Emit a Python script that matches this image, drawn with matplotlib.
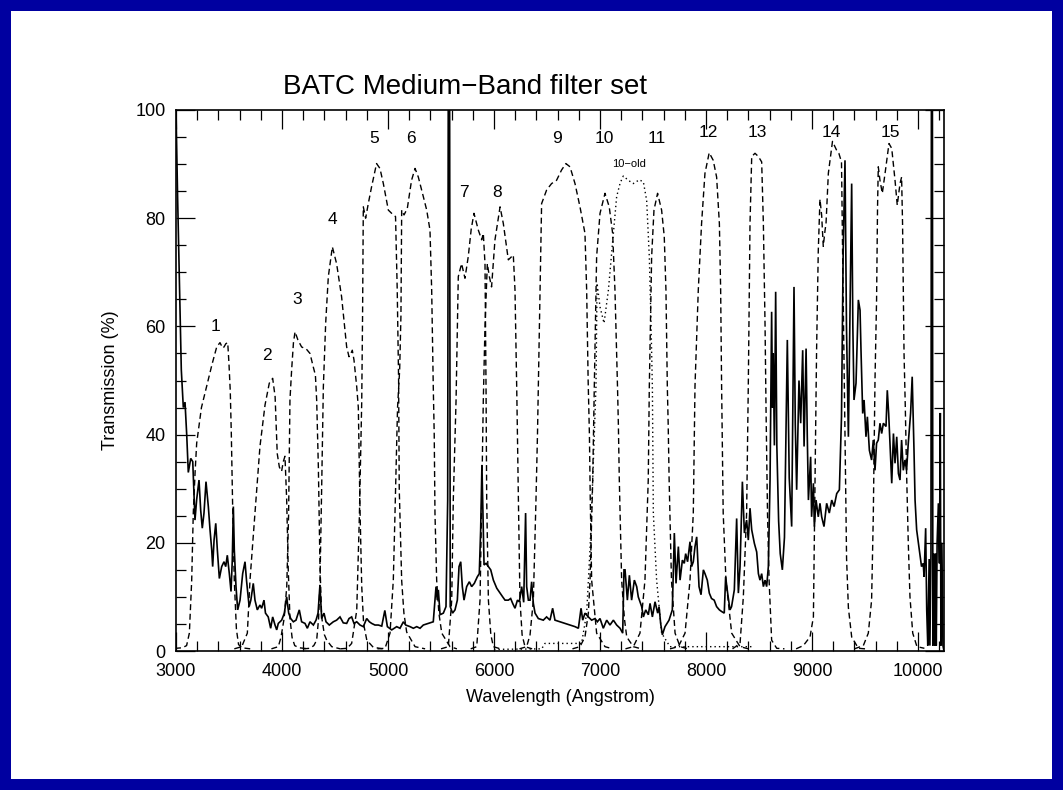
import matplotlib
matplotlib.use("Agg")
import matplotlib.pyplot as plt
from matplotlib.patches import Rectangle

plt.rcParams['font.family'] = ['Liberation Sans', 'DejaVu Sans']

# night sky spectrum (solid line)
sky_wave = [3000, 3015, 3030, 3050, 3069, 3085, 3101, 3116, 3139, 3158, 3179, 3195, 3217, 3233, 3248,
            3264, 3283, 3305, 3321, 3337, 3346, 3359, 3375, 3390, 3409, 3431, 3453, 3469, 3484, 3503,
            3519, 3531, 3541, 3550, 3566, 3582, 3604, 3629, 3651, 3665, 3690, 3706, 3729, 3745, 3767,
            3792, 3808, 3830, 3844, 3870, 3893, 3912, 3934, 3950, 3965, 3997, 4022, 4044, 4063, 4082,
            4107, 4132, 4163, 4185, 4217, 4239, 4264, 4296, 4321, 4340, 4358, 4374, 4396, 4415, 4446,
            4484, 4515, 4547, 4578, 4610, 4632, 4657, 4679, 4705, 4736, 4767, 4799, 4824, 4846, 4877,
            4909, 4941, 4970, 4994, 5035, 5082, 5113, 5145, 5167, 5208, 5239, 5271, 5302, 5333, 5380,
            5427, 5453, 5465, 5475, 5491, 5522, 5547, 5563, 5571, 5579, 5587, 5609, 5632, 5654, 5670,
            5686, 5701, 5717, 5742, 5767, 5789, 5814, 5842, 5861, 5874, 5886, 5893, 5906, 5925, 5947,
            5969, 5994, 6026, 6057, 6082, 6104, 6135, 6157, 6176, 6198, 6221, 6239, 6261, 6280, 6298,
            6308, 6324, 6340, 6355, 6371, 6387, 6418, 6465, 6496, 6528, 6553, 6575, 6623, 6670, 6717,
            6764, 6796, 6821, 6837, 6858, 6890, 6921, 6953, 6975, 7000, 7031, 7063, 7094, 7126, 7157,
            7189, 7214, 7226, 7236, 7258, 7277, 7298, 7324, 7346, 7361, 7393, 7409, 7431, 7456, 7472,
            7494, 7519, 7544, 7557, 7572, 7588, 7613, 7651, 7682, 7701, 7717, 7739, 7755, 7777, 7795,
            7808, 7826, 7849, 7864, 7880, 7896, 7912, 7934, 7953, 7975, 7990, 8012, 8031, 8052, 8077,
            8100, 8126, 8147, 8172, 8185, 8204, 8226, 8241, 8267, 8289, 8305, 8321, 8343, 8362, 8383,
            8399, 8415, 8431, 8456, 8478, 8494, 8509, 8525, 8541, 8557, 8572, 8588, 8604, 8619, 8627,
            8634, 8645, 8657, 8668, 8685, 8700, 8720, 8740, 8767, 8785, 8808, 8830, 8842, 8855, 8877,
            8893, 8912, 8925, 8944, 8955, 8966, 8987, 8996, 9013, 9022, 9038, 9059, 9075, 9091, 9113,
            9138, 9163, 9186, 9208, 9233, 9258, 9278, 9294, 9311, 9325, 9343, 9358, 9374, 9385, 9396,
            9415, 9437, 9453, 9462, 9478, 9491, 9509, 9522, 9541, 9562, 9578, 9594, 9609, 9625, 9641,
            9657, 9673, 9698, 9710, 9723, 9752, 9768, 9783, 9799, 9815, 9830, 9845, 9861, 9877, 9892,
            9908, 9930, 9945, 9962, 9972, 9987, 10012, 10033, 10049, 10057, 10072, 10082, 10092, 10105,
            10112, 10122, 10128, 10134, 10140, 10150, 10158, 10165, 10172, 10180, 10192, 10202, 10210,
            10216, 10225, 10235, 10245]
sky_trans = [100, 84, 70, 52, 45, 46, 40, 33, 35.6, 35, 24.2, 28, 31.6, 26, 22.7,
             25.5, 31.3, 26.7, 22.4, 18.7, 15.6, 20.5, 23.6, 18.7, 13.4, 15.6, 16.5, 15.6, 17.7, 14.3,
             11, 16.8, 26.7, 18.7, 11.9, 7.6, 9.4, 14.3, 16.5, 13.1, 8.2, 9.4, 12.5, 9.4, 7.6,
             8.5, 7.9, 9.4, 7, 6.3, 4.2, 6.3, 4.8, 3.9, 5.1, 5.7, 7, 10, 7, 6,
             5.4, 5.7, 7.6, 5.4, 5.1, 4.2, 5.4, 4.8, 5.7, 7, 12.2, 6, 7, 5.4, 4.8,
             5.4, 5.7, 6.3, 5.2, 5.1, 6, 6.3, 5.1, 5.4, 4.8, 4.5, 6, 5.4, 5.1, 4.8,
             4.8, 4.6, 7.5, 4.5, 3.9, 4.5, 4.2, 5.4, 4.8, 4.5, 4.2, 4.5, 4.2, 4.8, 5.1,
             5.4, 11.9, 9.4, 11.3, 6.7, 7, 8.2, 27.9, 140, 140, 8.2, 7, 7.6, 9.4, 15.6,
             16.5, 11.9, 9.4, 11.9, 12.8, 11.9, 12.5, 13.7, 14.3, 22.4, 34.4, 28, 15.9, 16.2, 15.6,
             15, 13.1, 11.6, 10.7, 10, 9.4, 9.4, 9.7, 8.8, 7.9, 9.4, 9.1, 11.9, 9, 25.5,
             11.9, 9.4, 9.4, 12.8, 8.8, 7, 6, 5.7, 6.3, 5.7, 7.9, 5.7, 5.4, 5.1, 4.8,
             4.5, 4.2, 7.9, 5.7, 7, 6.3, 5.7, 6, 5.4, 6, 4.2, 5.7, 4.8, 5.7, 4.8,
             4.2, 3.3, 15, 15, 9.4, 14, 9.4, 13.1, 11.9, 10, 8.2, 6.3, 7.6, 6.7, 8.8,
             6.3, 9.1, 7, 8.2, 5.1, 3, 4.5, 5.7, 7.6, 21.8, 12.5, 19.3, 13.1, 16.8, 16.2,
             18, 16.5, 20.2, 15.6, 16.5, 19.3, 21.1, 11.9, 10.4, 15, 14.3, 13.1, 10.7, 9.7, 9.4,
             8.2, 7.6, 7.3, 7, 13.7, 10.7, 7.6, 8.2, 11.3, 24.5, 10.7, 15.6, 31.3, 21.8, 24.2,
             20.5, 26.4, 22.4, 19.9, 18.3, 14.3, 13.1, 14.3, 11.9, 13.1, 11.9, 15.6, 31.6, 62.7, 45,
             55, 38, 66.4, 38, 24, 18, 15, 21, 57.5, 32, 23, 67.3, 42, 29.8, 50,
             42.1, 55.6, 37.8, 55.9, 40, 27.9, 35.9, 24.8, 31, 23, 27.9, 24.8, 27.3, 24.8, 23,
             27.3, 25.5, 27.9, 26.7, 29.1, 29.8, 43.3, 74.1, 90.7, 60, 39.6, 61.8, 86.4, 60, 46.4,
             49.5, 64.9, 63, 55.6, 43.9, 46.4, 39.6, 43.3, 37.1, 35.3, 39, 33.4, 38.4, 39, 42.1,
             40.2, 42.1, 41.5, 48.2, 43.9, 31, 40.2, 34.7, 39.6, 32.8, 31.6, 39, 33.4, 35.3, 33.4,
             38.4, 44, 50.7, 37.1, 27.9, 22.4, 18.7, 15.6, 16.2, 13.7, 22.7, 7.6, 1, 17,
             1, 18, 140, 140, 1, 18, 1, 18, 1, 20, 27.3, 16.2, 44,
             1, 20, 1, 0]

# filter curves (dashed)
f1_wave = [2900, 3000, 3060, 3100, 3126, 3148, 3163, 3180, 3195, 3240, 3290, 3340, 3384, 3415,
           3440, 3453, 3470, 3488, 3500, 3512, 3522, 3535, 3550, 3570, 3590, 3620, 3700]
f1_trans = [0.5, 0.5, 0.6, 1.0, 3.3, 13, 25.5, 33, 38.4, 45, 49, 53, 56.2, 57,
            56, 56.2, 56.8, 57, 53, 48, 40, 26, 13, 4, 1.2, 0.6, 0.4]
f2_wave = [3550, 3620, 3673, 3698, 3745, 3792, 3840, 3880, 3912, 3935, 3955, 3975, 3996, 4012,
           4028, 4044, 4059, 4075, 4095, 4120, 4160, 4250]
f2_trans = [0.4, 0.8, 3.3, 13.1, 25.5, 37.8, 45.5, 49.5, 50.4, 47, 36.5, 34, 33.2, 35,
            36, 28, 15, 6, 2.5, 1, 0.6, 0.4]
f3_wave = [3900, 3965, 3990, 4020, 4045, 4062, 4075, 4091, 4108, 4123, 4150, 4185, 4230, 4264,
           4295, 4315, 4327, 4343, 4358, 4374, 4400, 4422, 4469, 4550]
f3_trans = [0.4, 0.8, 2.5, 6, 12, 25, 46.4, 52, 57, 59, 57.5, 56.2, 55.8, 55,
            52.5, 51, 46.4, 34, 16, 6.3, 3, 2, 0.8, 0.4]
f4_wave = [4200, 4264, 4300, 4327, 4345, 4358, 4374, 4390, 4412, 4437, 4475, 4515, 4562, 4610,
           4632, 4650, 4663, 4679, 4705, 4720, 4736, 4752, 4770, 4800, 4860, 4950]
f4_trans = [0.4, 0.5, 1, 2, 6, 12.5, 30, 48.8, 60.6, 69.2, 74.7, 71.6, 65.5, 56.2,
            54.4, 55, 55.6, 53.8, 48.8, 45, 26, 12, 5, 2, 0.7, 0.4]
f5_wave = [4550, 4615, 4657, 4705, 4730, 4752, 4760, 4767, 4789, 4814, 4845, 4892, 4924, 4956,
           5003, 5050, 5071, 5087, 5100, 5106, 5129, 5150, 5176, 5255, 5350]
f5_trans = [0.4, 0.5, 1.4, 7.5, 25, 46, 62, 82.1, 80, 82.7, 85.8, 90.1, 89.2, 86.4,
            81.5, 80.6, 80.3, 66.7, 50, 30, 13, 7, 3.5, 0.8, 0.4]
f6_wave = [4900, 4972, 5019, 5050, 5066, 5090, 5110, 5122, 5129, 5151, 5182, 5222, 5255, 5286,
           5333, 5365, 5396, 5412, 5427, 5436, 5443, 5459, 5480, 5507, 5585, 5650]
f6_trans = [0.4, 0.5, 3.3, 13.1, 25.5, 45, 52, 62, 81.5, 80.6, 81.8, 87, 89.2, 87.6,
            84, 81.5, 77.8, 66.7, 48.8, 40, 25.5, 13.1, 7, 3.3, 0.8, 0.4]
f7_wave = [5500, 5569, 5601, 5616, 5642, 5663, 5694, 5726, 5757, 5785, 5811, 5852, 5884, 5899,
           5915, 5925, 5931, 5947, 5970, 5994, 6060]
f7_trans = [0.4, 0.8, 9.4, 28, 46.4, 69.2, 71.6, 68.9, 72.9, 78, 80.9, 77.8, 76, 77.2,
            71.6, 48, 28, 9.4, 3, 0.8, 0.4]
f8_wave = [5780, 5837, 5868, 5884, 5899, 5915, 5937, 5956, 5977, 6009, 6057, 6088, 6135, 6182,
           6198, 6214, 6221, 6230, 6245, 6265, 6292, 6360]
f8_trans = [0.4, 0.8, 9.4, 28, 46.4, 60, 71.6, 69.2, 67.3, 76, 82.1, 79, 72.3, 73.2,
            66.7, 48.8, 40, 28, 9.4, 3, 0.8, 0.4]
f9_wave = [6240, 6308, 6340, 6371, 6396, 6410, 6418, 6449, 6496, 6543, 6590, 6637, 6678, 6717,
           6764, 6811, 6858, 6874, 6888, 6900, 6908, 6921, 6968, 7047, 7120]
f9_trans = [0.4, 0.8, 3, 9.4, 28, 40, 48.8, 82.7, 85.2, 86.4, 87, 88.9, 90.1, 89.5,
            86.4, 82.1, 77.2, 66.7, 50, 40, 28, 13.1, 3.3, 0.8, 0.4]
f10_wave = [6740, 6811, 6858, 6890, 6906, 6931, 6946, 6968, 7000, 7047, 7087, 7119, 7141, 7165,
            7173, 7182, 7204, 7230, 7252, 7314, 7390]
f10_trans = [0.4, 0.8, 2.6, 7, 13.1, 31.6, 48.8, 72.9, 80.9, 84.6, 82.1, 77.2, 66.7, 48.8,
             42, 31.6, 13.1, 6, 2.6, 0.8, 0.4]
f11_wave = [7240, 7314, 7377, 7424, 7455, 7465, 7487, 7509, 7543, 7581, 7606, 7622, 7635, 7643,
            7652, 7674, 7708, 7755, 7830]
f11_trans = [0.4, 0.8, 3.3, 13.1, 31.6, 48.8, 72.9, 81.5, 84.6, 81.5, 76.6, 66.7, 48.8, 42,
             31.6, 13.1, 3.3, 0.8, 0.4]
f12_wave = [7660, 7739, 7802, 7849, 7880, 7896, 7927, 7958, 7990, 8030, 8068, 8100, 8126, 8138,
            8147, 8162, 8188, 8242, 8321, 8400]
f12_trans = [0.4, 0.8, 3.3, 13.1, 25.5, 49, 66.7, 79, 88.3, 92.1, 90.7, 87.6, 79, 66.7,
             49, 25.5, 13.1, 3.3, 0.8, 0.4]
f13_wave = [8250, 8321, 8352, 8383, 8399, 8415, 8431, 8462, 8494, 8525, 8541, 8557, 8566, 8580,
            8595, 8619, 8667, 8740]
f13_trans = [0.4, 1.4, 10, 25.5, 49.4, 79, 91.4, 92, 91.4, 90.4, 79, 60, 45, 25.5,
             13.1, 2, 0.5, 0.4]
f14_wave = [8850, 8918, 8981, 9013, 9028, 9043, 9059, 9075, 9091, 9106, 9123, 9132, 9154, 9193,
            9231, 9253, 9278, 9294, 9311, 9326, 9343, 9374, 9437, 9500]
f14_trans = [0.4, 1, 2.6, 6.3, 31, 55.6, 74, 83.5, 80.5, 74.8, 77.8, 79, 88.3, 94.2,
             92.6, 92, 90.4, 65, 40, 17, 8, 2.6, 0.5, 0.4]
f15_wave = [9400, 9484, 9531, 9562, 9578, 9594, 9609, 9618, 9625, 9641, 9663, 9689, 9726, 9752,
            9783, 9804, 9830, 9845, 9854, 9868, 9880, 9892, 9908, 9924, 9950, 9990, 10060]
f15_trans = [0.4, 1, 3.3, 9.4, 25, 50, 65, 82, 89.5, 87, 84.6, 88.3, 93.8, 92.9,
             87, 82.4, 86.4, 87.6, 79, 55, 45, 33, 20, 10, 3.3, 0.8, 0.5]

# old filter 10 (dotted)
f10old_wave = [6000, 6450, 6480, 6826, 6874, 6906, 6931, 6953, 6962, 6972, 7000, 7038, 7079, 7126,
               7157, 7190, 7220, 7267, 7314, 7371, 7409, 7440, 7465, 7481, 7494, 7503, 7534, 7581,
               7660, 8450]
f10old_trans = [0.3, 0.4, 1.4, 1.4, 7, 19, 31.6, 43.9, 49, 68, 63.6, 60.6, 66.7, 77.2,
                84, 86.5, 87.8, 87, 86.4, 87.1, 86.7, 83.3, 72.9, 60.6, 48.8, 25.5, 13.1, 3.3,
                0.8, 0.8]

filter_waves = [f1_wave, f2_wave, f3_wave, f4_wave, f5_wave, f6_wave, f7_wave, f8_wave,
                f9_wave, f10_wave, f11_wave, f12_wave, f13_wave, f14_wave, f15_wave]
filter_trans = [f1_trans, f2_trans, f3_trans, f4_trans, f5_trans, f6_trans, f7_trans, f8_trans,
                f9_trans, f10_trans, f11_trans, f12_trans, f13_trans, f14_trans, f15_trans]

# filter number labels
labels = ['1', '2', '3', '4', '5', '6', '7', '8', '9', '10', '11', '12', '13', '14', '15']
label_x = [3368, 3858, 4141, 4472, 4868, 5217, 5717, 6028, 6594, 7038, 7538, 8019, 8481, 9179, 9736]
label_y = [59.9, 54.7, 64.9, 79.7, 94.8, 94.8, 84.8, 84.8, 94.8, 94.8, 94.8, 95.9, 95.9, 95.9, 95.9]

W, H = 1063, 790
fig = plt.figure(figsize=(W / 100, H / 100), dpi=100, facecolor='#0000a0')
fig.patches.append(Rectangle((11 / W, 11 / H), 1 - 22 / W, 1 - 22 / H, transform=fig.transFigure,
                             facecolor='white', edgecolor='none', zorder=-10))

ax = fig.add_axes([176 / W, 1 - 651 / H, 768 / W, 541 / H])
ax.set_zorder(5)
ax.set_facecolor('white')

ax.plot(sky_wave, sky_trans, color='black', lw=1.2, solid_joinstyle='miter')
for wv, tr in zip(filter_waves, filter_trans):
    ax.plot(wv, tr, color='black', lw=1.0, dashes=(4.3, 2.6))
ax.plot(f10old_wave, f10old_trans, color='black', lw=1.0, dashes=(1, 2.2))

for lab, x, y in zip(labels, label_x, label_y):
    ax.text(x, y, lab, ha='center', va='center', fontsize=12.5)
ax.text(7274, 90.1, '10\u2212old', ha='center', va='center', fontsize=8)

ax.set_xlim(3000, 10245)
ax.set_ylim(0, 100)
ax.set_xticks(range(3000, 10001, 1000))
ax.set_xticks(range(3000, 10201, 200), minor=True)
ax.set_yticks(range(0, 101, 20))
ax.set_yticks(range(0, 101, 5), minor=True)
ax.tick_params(which='both', direction='in', top=True, right=True, width=0.9, colors='black')
ax.tick_params(which='major', length=13.5, labelsize=13)
ax.tick_params(which='minor', length=7)
ax.tick_params(axis='x', which='major', pad=9)
ax.tick_params(axis='y', which='major', pad=7.5)
for sp in ax.spines.values():
    sp.set_linewidth(1.2)

ax.set_xlabel('Wavelength (Angstrom)', fontsize=13)
ax.set_ylabel('Transmission (%)', fontsize=13)
ax.xaxis.set_label_coords(0.5, (651 - 698) / 541)
ax.xaxis.label.set_va('center')
ax.yaxis.set_label_coords((110 - 176) / 768, 0.5)
ax.yaxis.label.set_va('center')

fig.text(283 / W, 1 - 94 / H, 'BATC Medium\u2212Band filter set', fontsize=20, ha='left', va='baseline')

fig.savefig('out.png', dpi=100, facecolor=fig.get_facecolor())
